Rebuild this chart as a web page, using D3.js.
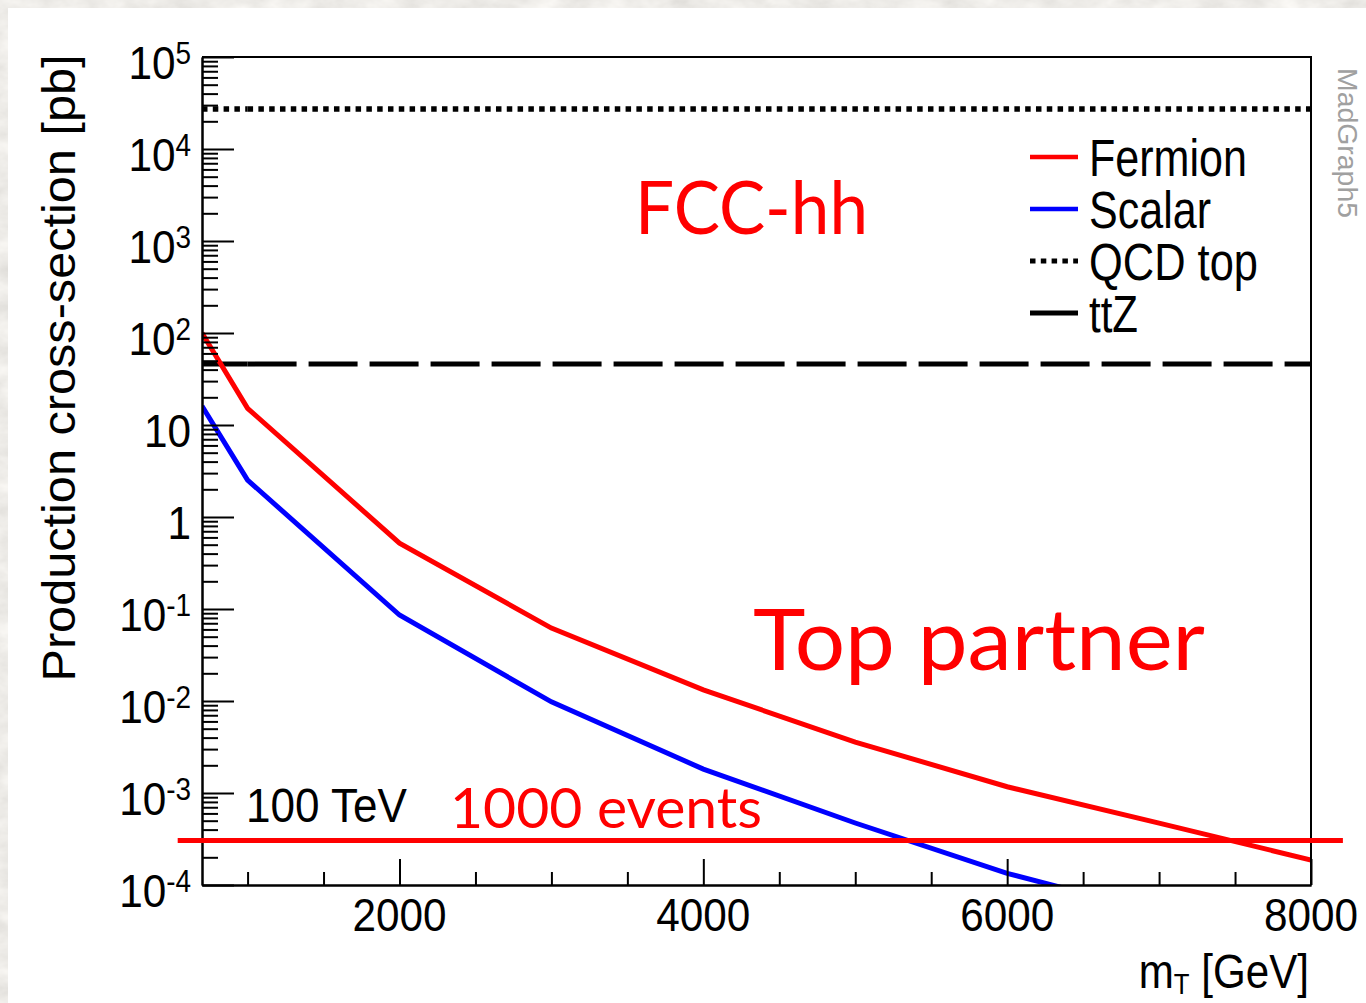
<!DOCTYPE html>
<html>
<head>
<meta charset="utf-8">
<script src="https://cdn.jsdelivr.net/npm/d3@7/dist/d3.min.js"></script>
<style>
  body { margin: 0; background: #dad6cf; }
  svg { display: block; }
</style>
</head>
<body>
<svg id="xsec" width="1366" height="1003"></svg>
<script>
// top partner pair production at 100 TeV
var masses = [700, 1000, 2000, 3000, 4000, 5000, 6000, 7000, 8000];
var fermionXsec = [100, 15.2, 0.52, 0.062, 0.0132, 0.00358, 0.00117, 4.7e-4, 1.87e-4];
var scalarXsec = [16.1, 2.52, 0.086, 0.0098, 0.00182, 4.72e-4, 1.34e-4, 4.96e-5];

// flat backgrounds (graph points)
var bkgMasses = [700, 1000, 8000];
var qcdTopXsec = [27200, 27200, 27200];
var ttzXsec = [46, 46, 46];

// 1000 events line
var eventsXsec = 3.05e-4;
var eventsMassRange = [540, 8210];

var xMajorTicks = [2000, 4000, 6000, 8000];
var xTickLabels = ["2000", "4000", "6000", "8000"];
var yDecades = [1e-4, 1e-3, 1e-2, 1e-1, 1, 10, 1e2, 1e3, 1e4, 1e5];
var yTickLabels = [["10","-4"], ["10","-3"], ["10","-2"], ["10","-1"], ["1",""], ["10",""],
                   ["10","2"], ["10","3"], ["10","4"], ["10","5"]];
var legendLabels = ["Fermion", "Scalar", "QCD top", "ttZ"];

var helv = "'Liberation Sans', Arial, Helvetica, sans-serif";
var cali = "Lato, 'Open Sans', sans-serif";

var svg = d3.select("#xsec"),
  width = +svg.attr("width"),
  height = +svg.attr("height");

var defs = svg.append("defs");
var marble = defs.append("filter").attr("id", "marble")
  .attr("x", 0).attr("y", 0).attr("width", 1).attr("height", 1);
marble.append("feTurbulence").attr("type", "fractalNoise")
  .attr("baseFrequency", "0.03 0.05").attr("numOctaves", 4).attr("seed", 7);
marble.append("feColorMatrix").attr("type", "matrix")
  .attr("values", "0.3 0 0 0 0.7  0.3 0 0 0 0.685  0.3 0 0 0 0.655  0 0 0 0 1");

defs.append("clipPath").attr("id", "frame-clip")
  .append("rect").attr("x", 202).attr("y", 57).attr("width", 1109).attr("height", 828);

svg.append("rect").attr("width", width).attr("height", height).attr("filter", "url(#marble)");
svg.append("rect").attr("x", 8).attr("y", 8).attr("width", width - 8).attr("height", height - 8)
  .attr("fill", "#fff");

var x = d3.scaleLinear().domain([700, 8000]).range([202, 1311]),
  y = d3.scaleLog().domain([1e-4, 1e5]).range([885, 57]);

var line = d3.line()
  .x(function(d){ return x(d[0]); })
  .y(function(d){ return y(d[1]); });

var plot = svg.append("g").attr("clip-path", "url(#frame-clip)");

// background lines: the dash pattern restarts at every graph point (as ROOT does)
function segmented(g, xs, ys, color, w, dash) {
  var pts = xs.map(function(m, i){ return [m, ys[i]]; });
  g.selectAll(null)
    .data(d3.pairs(pts))
    .enter()
    .append("path")
    .attr("d", line)
    .attr("fill", "none")
    .attr("stroke", color)
    .attr("stroke-width", w)
    .attr("stroke-dasharray", dash);
}
segmented(plot, bkgMasses, qcdTopXsec, "#000", 5.5, "5.5,5.3");
segmented(plot, bkgMasses, ttzXsec, "#000", 5, "49,12");

plot.append("path")
  .datum(masses.map(function(m, i){ return [m, scalarXsec[i]]; }).filter(function(d){ return d[1] != null; }))
  .attr("d", line).attr("fill", "none").attr("stroke", "#0000ff").attr("stroke-width", 5);
plot.append("path")
  .datum(masses.map(function(m, i){ return [m, fermionXsec[i]]; }))
  .attr("d", line).attr("fill", "none").attr("stroke", "#ff0000").attr("stroke-width", 5);

// axes, ROOT style ticks pointing inwards
var minorY = [];
yDecades.slice(0, -1).forEach(function(d){
  for (var k = 2; k <= 9; k++) minorY.push(d * k);
});
var minorX = d3.range(1000, 8000, 500).filter(function(v){ return xMajorTicks.indexOf(v) < 0; });

function styleAxis(g, w) {
  g.selectAll("path").attr("stroke", "#000").attr("stroke-width", 2);
  g.selectAll("line").attr("stroke", "#000").attr("stroke-width", w);
}

var yAxisG = svg.append("g").attr("transform", "translate(202,0)");
yAxisG.append("g").call(d3.axisLeft(y).tickValues(minorY).tickSize(-16).tickSizeOuter(0).tickFormat(""))
  .call(styleAxis, 2);
yAxisG.append("g").call(d3.axisLeft(y).tickValues(yDecades).tickSize(-32).tickSizeOuter(0).tickFormat(""))
  .call(styleAxis, 2);

var xAxisG = svg.append("g").attr("transform", "translate(0,885)");
xAxisG.append("g").call(d3.axisBottom(x).tickValues(minorX).tickSize(-13).tickSizeOuter(0).tickFormat(""))
  .call(styleAxis, 2);
xAxisG.append("g").call(d3.axisBottom(x).tickValues(xMajorTicks).tickSize(-26).tickSizeOuter(0).tickFormat(""))
  .call(styleAxis, 2);

// top and right frame
svg.append("path")
  .attr("d", "M202,57H1311V885")
  .attr("fill", "none").attr("stroke", "#000").attr("stroke-width", 2);

// text helper: anchored at (px,py), squeezed horizontally like the original
function txt(px, py, size, sx, anchor, font, fill) {
  return svg.append("g")
    .attr("transform", "translate(" + px + "," + py + ") scale(" + sx + ",1)")
    .append("text")
    .attr("font-family", font)
    .attr("font-size", size)
    .attr("text-anchor", anchor)
    .attr("fill", fill || "#000");
}

yDecades.forEach(function(v, i){
  var t = txt(191, y(v) + 22, 47, 0.9, "end", helv);
  t.append("tspan").text(yTickLabels[i][0]);
  if (yTickLabels[i][1]) {
    t.append("tspan").attr("font-size", 31).attr("dy", -15).text(yTickLabels[i][1]);
  }
});

xMajorTicks.forEach(function(v, i){
  txt(x(v), 931, 47, 0.9, "middle", helv).text(xTickLabels[i]);
});

// axis titles
var xt = txt(1309, 988, 49, 0.86, "end", helv);
xt.append("tspan").text("m");
xt.append("tspan").attr("font-size", 30).attr("dy", 6).text("T");
xt.append("tspan").attr("dy", -6).text(" [GeV]");

svg.append("text")
  .attr("transform", "translate(75,368) rotate(-90)")
  .attr("font-family", helv).attr("font-size", 47)
  .attr("text-anchor", "middle")
  .attr("textLength", 627).attr("lengthAdjust", "spacingAndGlyphs")
  .text("Production cross-section [pb]");

svg.append("text")
  .attr("transform", "translate(1338,68) rotate(90)")
  .attr("font-family", helv).attr("font-size", 27)
  .attr("fill", "#a0a0a0")
  .attr("textLength", 150).attr("lengthAdjust", "spacingAndGlyphs")
  .text("MadGraph5");

// legend
var legendG = svg.append("g");
var legendY = [157, 209, 261, 313],
  legendW = [158, 122, 169, 49];
var legendStroke = [
  {color: "#ff0000", w: 4.5, dash: null},
  {color: "#0000ff", w: 4.5, dash: null},
  {color: "#000", w: 5, dash: "5.5,5.3"},
  {color: "#000", w: 5, dash: null}
];
legendLabels.forEach(function(lab, i){
  legendG.append("line")
    .attr("x1", 1030).attr("x2", 1078)
    .attr("y1", legendY[i]).attr("y2", legendY[i])
    .attr("stroke", legendStroke[i].color)
    .attr("stroke-width", legendStroke[i].w)
    .attr("stroke-dasharray", legendStroke[i].dash);
  legendG.append("text")
    .attr("x", 1089).attr("y", legendY[i] + 19)
    .attr("font-family", helv).attr("font-size", 51)
    .attr("textLength", legendW[i]).attr("lengthAdjust", "spacingAndGlyphs")
    .text(lab);
});

// annotations
svg.append("text").attr("x", 246).attr("y", 822)
  .attr("font-family", helv).attr("font-size", 49)
  .attr("textLength", 161).attr("lengthAdjust", "spacingAndGlyphs")
  .text("100 TeV");

svg.append("text").attr("x", 635).attr("y", 234)
  .attr("font-family", cali).attr("font-size", 74).attr("fill", "#ff0000")
  .attr("textLength", 233).attr("lengthAdjust", "spacingAndGlyphs")
  .text("FCC-hh");

svg.append("text").attr("x", 753).attr("y", 670)
  .attr("font-family", cali).attr("font-size", 86).attr("fill", "#ff0000")
  .attr("textLength", 452).attr("lengthAdjust", "spacingAndGlyphs")
  .text("Top partner");

svg.append("text").attr("x", 450).attr("y", 828)
  .attr("font-family", cali).attr("font-size", 56).attr("fill", "#ff0000")
  .attr("textLength", 312).attr("lengthAdjust", "spacingAndGlyphs")
  .text("1000 events");

svg.append("line")
  .attr("x1", x(eventsMassRange[0])).attr("x2", x(eventsMassRange[1]))
  .attr("y1", y(eventsXsec)).attr("y2", y(eventsXsec))
  .attr("stroke", "#ff0000").attr("stroke-width", 5);
</script>
</body>
</html>
